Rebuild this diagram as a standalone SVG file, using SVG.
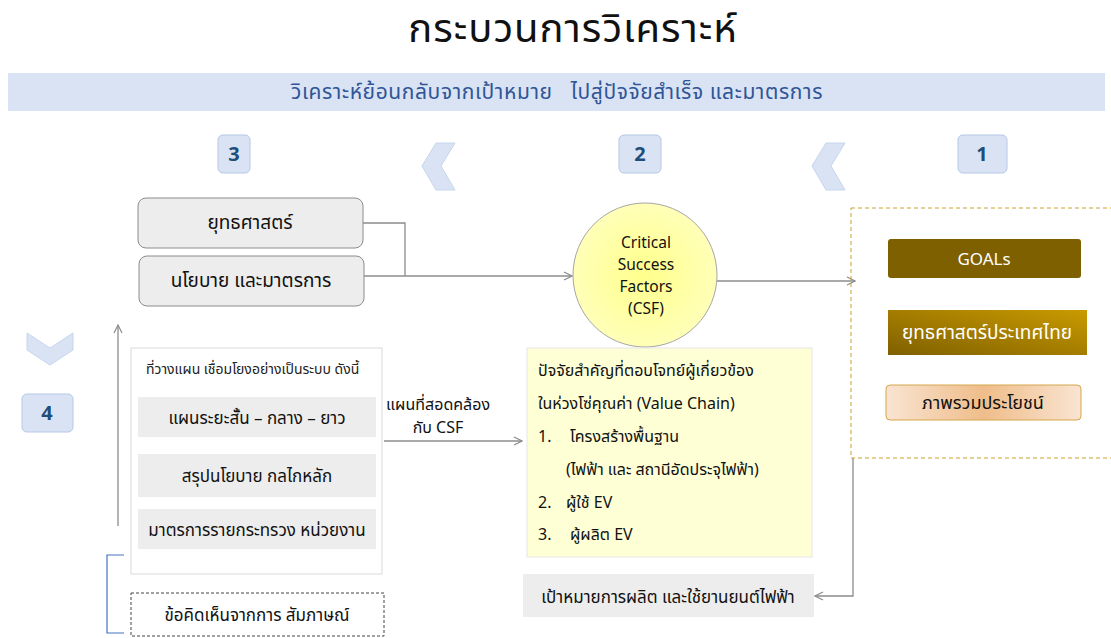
<svg xmlns="http://www.w3.org/2000/svg" width="1111" height="638" viewBox="0 0 1111 638">
  <defs>
    <style>
      text { font-family: "Noto Sans", "Noto Sans Thai", "Liberation Sans", sans-serif; }
      .t { fill: #111; text-anchor: middle; }
      .badge { fill: #dae3f3; stroke: #b4c7e7; stroke-width: 1; }
      .num { fill: #1f4e79; font-weight: bold; font-size: 20px; text-anchor: middle; }
      .chev { fill: #dae3f3; stroke: #c5d6ee; stroke-width: 1; }
      .gray { fill: #ededed; }
      .conn { fill: none; stroke: #8c8c8c; stroke-width: 1.3; }
    </style>
    <marker id="arr" viewBox="0 0 10 10" refX="9" refY="5" markerWidth="10" markerHeight="10" markerUnits="userSpaceOnUse" orient="auto">
      <path d="M1,1 L9,5 L1,9" fill="none" stroke="#8c8c8c" stroke-width="1.2"/>
    </marker>
    <radialGradient id="csfFill" cx="0.5" cy="0.5" r="0.5">
      <stop offset="0" stop-color="#ffff8c"/>
      <stop offset="1" stop-color="#ffffb8"/>
    </radialGradient>
    <linearGradient id="thaiFill" x1="0" y1="1" x2="1" y2="0">
      <stop offset="0" stop-color="#7f6000"/>
      <stop offset="1" stop-color="#c99a00"/>
    </linearGradient>
    <linearGradient id="benefitFill" x1="0" y1="0" x2="1" y2="0">
      <stop offset="0" stop-color="#f9e4d2"/>
      <stop offset="0.5" stop-color="#efbd8a"/>
      <stop offset="1" stop-color="#f9e4d2"/>
    </linearGradient>
  </defs>

  <!-- heading -->
  <g id="title">
    <text x="573" y="42" class="t" font-size="40" letter-spacing="1">กระบวนการวิเคราะห์</text>
  </g>

  <g id="banner">
    <rect x="8" y="73" width="1097" height="38" fill="#dae3f3"/>
    <text x="557" y="99" font-size="21" fill="#2f5597" text-anchor="middle" letter-spacing="0.6" style="white-space:pre">วิเคราะห์ย้อนกลับจากเป้าหมาย   ไปสู่ปัจจัยสำเร็จ และมาตรการ</text>
  </g>

  <!-- step badges -->
  <g id="step3"><rect class="badge" x="218" y="135" width="32" height="38" rx="5"/><text class="num" x="234" y="161">3</text></g>
  <g id="step2"><rect class="badge" x="619" y="135" width="42" height="38" rx="5"/><text class="num" x="640" y="161">2</text></g>
  <g id="step1"><rect class="badge" x="958" y="135" width="49" height="38" rx="5"/><text class="num" x="982" y="161">1</text></g>
  <g id="step4"><rect class="badge" x="22" y="394" width="51" height="38" rx="5"/><text class="num" x="47" y="420">4</text></g>

  <!-- direction chevrons -->
  <g id="chevrons">
    <polygon class="chev" points="455,143 441,166 455,190 436,190 422,166 436,143"/>
    <polygon class="chev" points="845,143 831,166 845,190 826,190 812,166 826,143"/>
    <polygon class="chev" points="27,333 50,348 73,333 73,350 50,365 27,350"/>
  </g>

  <!-- connectors -->
  <g id="connectors">
    <polyline class="conn" points="363,223 405,223 405,276"/>
    <line class="conn" x1="364" y1="276" x2="572" y2="276" marker-end="url(#arr)"/>
    <line class="conn" x1="717" y1="281" x2="855" y2="281" marker-end="url(#arr)"/>
    <polyline class="conn" points="853,458 853,596 815,596" marker-end="url(#arr)"/>
    <line class="conn" x1="384" y1="441" x2="522" y2="441" marker-end="url(#arr)"/>
    <line class="conn" x1="118" y1="526" x2="118" y2="325" marker-end="url(#arr)"/>
    <polyline fill="none" stroke="#4472c4" stroke-width="1.2" points="124,555 107,555 107,633 124,633"/>
  </g>

  <g id="strategy">
    <rect x="138" y="198" width="225" height="50" rx="8" fill="#ededed" stroke="#8c8c8c" stroke-width="1"/>
    <text class="t" x="250" y="229" font-size="19">ยุทธศาสตร์</text>
  </g>
  <g id="policy">
    <rect x="139" y="256" width="225" height="50" rx="8" fill="#ededed" stroke="#8c8c8c" stroke-width="1"/>
    <text class="t" x="251" y="287" font-size="19">นโยบาย และมาตรการ</text>
  </g>

  <g id="csf">
    <circle cx="645" cy="275" r="72" fill="url(#csfFill)" stroke="#a6a6a6" stroke-width="1"/>
    <text class="t" x="646" y="248" font-size="15.5">Critical</text>
    <text class="t" x="646" y="270" font-size="15.5">Success</text>
    <text class="t" x="646" y="292" font-size="15.5">Factors</text>
    <text class="t" x="646" y="314" font-size="15.5">(CSF)</text>
  </g>

  <g id="goals-group">
    <rect x="851" y="208" width="262" height="250" fill="none" stroke="#c9a227" stroke-width="1" stroke-dasharray="4,3"/>
  </g>
  <g id="goals">
    <rect x="888" y="239" width="193" height="39" rx="3" fill="#7f6000"/>
    <text x="984" y="265" font-size="17" fill="#fff" text-anchor="middle">GOALs</text>
  </g>
  <g id="thai-strategy">
    <rect x="888" y="310" width="199" height="45" fill="url(#thaiFill)"/>
    <text x="987" y="339" font-size="19" fill="#fff" text-anchor="middle">ยุทธศาสตร์ประเทศไทย</text>
  </g>
  <g id="benefit">
    <rect x="886" y="385" width="195" height="35" rx="4" fill="url(#benefitFill)" stroke="#d4a64a" stroke-width="1"/>
    <text class="t" x="983" y="409" font-size="18">ภาพรวมประโยชน์</text>
  </g>

  <g id="ev-target">
    <rect class="gray" x="523" y="574" width="291" height="43"/>
    <text class="t" x="668" y="603" font-size="17">เป้าหมายการผลิต และใช้ยานยนต์ไฟฟ้า</text>
  </g>

  <g id="factors">
    <rect x="527" y="348" width="285" height="209" fill="#ffffd6" stroke="#e6e6e6" stroke-width="1"/>
    <g font-size="16" fill="#111">
      <text x="538" y="376">ปัจจัยสำคัญที่ตอบโจทย์ผู้เกี่ยวข้อง</text>
      <text x="538" y="409">ในห่วงโซ่คุณค่า (Value Chain)</text>
      <text x="538" y="442">1.</text>
      <text x="570" y="442">โครงสร้างพื้นฐาน</text>
      <text x="566" y="475">(ไฟฟ้า และ สถานีอัดประจุไฟฟ้า)</text>
      <text x="538" y="508">2.</text>
      <text x="566" y="508">ผู้ใช้ EV</text>
      <text x="538" y="540">3.</text>
      <text x="570" y="540">ผู้ผลิต EV</text>
    </g>
  </g>

  <g id="csf-plan-label">
    <text class="t" x="438" y="410" font-size="16">แผนที่สอดคล้อง</text>
    <text class="t" x="438" y="433" font-size="16">กับ CSF</text>
  </g>

  <g id="planning">
    <rect x="131" y="348" width="251" height="226" fill="#fff" stroke="#d9d9d9" stroke-width="1"/>
    <text x="146" y="374" font-size="14" fill="#222">ที่วางแผน เชื่อมโยงอย่างเป็นระบบ ดังนี้</text>
    <rect class="gray" x="138" y="397" width="238" height="40"/>
    <text class="t" x="257" y="424" font-size="17">แผนระยะสั้น – กลาง – ยาว</text>
    <rect class="gray" x="138" y="454" width="238" height="43"/>
    <text class="t" x="257" y="482" font-size="17">สรุปนโยบาย กลไกหลัก</text>
    <rect class="gray" x="138" y="509" width="238" height="40"/>
    <text class="t" x="257" y="536" font-size="17">มาตรการรายกระทรวง หน่วยงาน</text>
  </g>

  <g id="interview">
    <rect x="131" y="593" width="253" height="43" fill="#fff" stroke="#444" stroke-width="1" stroke-dasharray="3,2"/>
    <text class="t" x="257" y="621" font-size="17">ข้อคิดเห็นจากการ สัมภาษณ์</text>
  </g>
</svg>
